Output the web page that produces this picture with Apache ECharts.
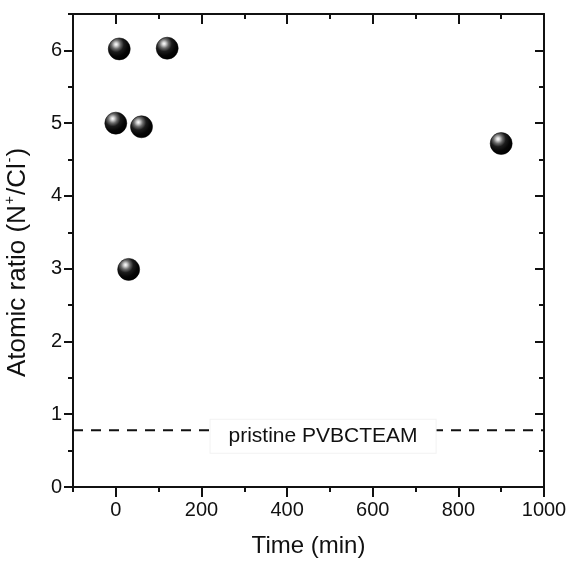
<!DOCTYPE html>
<html>
<head>
<meta charset="utf-8">
<script src="https://cdn.jsdelivr.net/npm/echarts@6/dist/echarts.min.js"></script>
<style>
  html, body { margin: 0; padding: 0; background: #fff; }
  #main { width: 568px; height: 561px; }
</style>
</head>
<body>
<div id="main"></div>
<script>
// 数据
var timeMin = [0, 8, 30, 60, 120, 900];
var ratio = [5.0, 6.02, 2.99, 4.95, 6.03, 4.72];
var pristineRatio = 0.78;
var pristineText = "pristine PVBCTEAM";
var xMajor = [0, 200, 400, 600, 800, 1000];
var xMinor = [-100, 100, 300, 500, 700, 900];
var yMajor = [0, 1, 2, 3, 4, 5, 6];
var yMinor = [0.5, 1.5, 2.5, 3.5, 4.5, 5.5, 6.5];

var font = "Liberation Sans, Arial, sans-serif";
var ink = "#111";

var pts = [];
for (var i = 0; i < timeMin.length; i++) {
    pts.push([timeMin[i], ratio[i]]);
}

function xAx(pos, ticks, len, inside, showLine, showLabel) {
    return {
        type: "value", position: pos, min: -100, max: 1000, interval: 100,
        axisLine: { show: showLine, onZero: false, lineStyle: { color: ink, width: 2 } },
        axisTick: { show: true, inside: inside, length: len, customValues: ticks,
            lineStyle: { color: ink, width: 2 } },
        axisLabel: { show: showLabel, customValues: xMajor, margin: 13,
            fontSize: 20, color: ink, fontFamily: font,
            formatter: function (v) { return String(v); } },
        splitLine: { show: false }
    };
}
function yAx(pos, ticks, len, inside, showLine, showLabel) {
    return {
        type: "value", position: pos, min: 0, max: 6.5, interval: 0.5,
        axisLine: { show: showLine, onZero: false, lineStyle: { color: ink, width: 2 } },
        axisTick: { show: true, inside: inside, length: len, customValues: ticks,
            lineStyle: { color: ink, width: 2 } },
        axisLabel: { show: showLabel, customValues: yMajor, margin: 11,
            fontSize: 20, color: ink, fontFamily: font },
        splitLine: { show: false }
    };
}

var xb = xAx("bottom", xMajor, 10, false, true, true);
xb.name = "Time (min)";
xb.nameLocation = "middle";
xb.nameGap = 47;
xb.nameTextStyle = { fontSize: 24, color: ink, fontFamily: font };

var yl = yAx("left", yMajor, 9, false, true, true);
yl.name = "Atomic ratio (N{sup|+}/Cl{sup|-})";
yl.nameLocation = "middle";
yl.nameGap = 40;
yl.nameTextStyle = {
    fontSize: 26, color: ink, fontFamily: font, padding: [0, 24, 0, 0],
    rich: { sup: { fontSize: 14, verticalAlign: "top", color: ink, fontFamily: font, padding: [0, 1, 16, 1] } }
};

var sphere = new echarts.graphic.RadialGradient(0.36, 0.3, 0.72, [
    { offset: 0, color: "#ffffff" },
    { offset: 0.1, color: "#d6d6d6" },
    { offset: 0.28, color: "#6a6a6a" },
    { offset: 0.48, color: "#1c1c1c" },
    { offset: 0.75, color: "#050505" },
    { offset: 1, color: "#000000" }
]);

var chart = echarts.init(document.getElementById("main"));
chart.setOption({
    animation: false,
    backgroundColor: "#fff",
    grid: { left: 73, right: 24, top: 14, bottom: 74, containLabel: false, outerBoundsMode: "none" },
    xAxis: [
        xb,
        xAx("bottom", xMinor, 5, false, false, false),
        xAx("top", xMajor, 10, true, true, false),
        xAx("top", xMinor, 5, true, false, false)
    ],
    yAxis: [
        yl,
        yAx("left", yMinor, 5, false, false, false),
        yAx("right", yMajor, 9, true, true, false),
        yAx("right", yMinor, 5, true, false, false)
    ],
    series: [
        {
            type: "line",
            data: [[-100, pristineRatio], [1000, pristineRatio]],
            symbol: "none",
            lineStyle: { color: ink, width: 2, type: [10, 8] },
            z: 1
        },
        {
            type: "scatter",
            data: [[484, pristineRatio]],
            symbol: "rect",
            symbolSize: 20,
            itemStyle: { color: "rgba(255,255,255,0)", opacity: 1 },
            z: 3,
            label: {
                show: true, position: "inside", formatter: pristineText,
                fontSize: 21, color: ink, fontFamily: font, opacity: 1,
                textBorderWidth: 0,
                backgroundColor: "#fff", borderColor: "#f2f2f2", borderWidth: 1,
                padding: [6, 18, 6, 18], offset: [0, 6]
            }
        },
        {
            type: "scatter",
            data: pts,
            symbol: "circle",
            symbolSize: 22,
            itemStyle: { color: sphere, borderColor: "#000", borderWidth: 0.5, opacity: 1 },
            z: 5
        }
    ]
});
</script>
</body>
</html>
